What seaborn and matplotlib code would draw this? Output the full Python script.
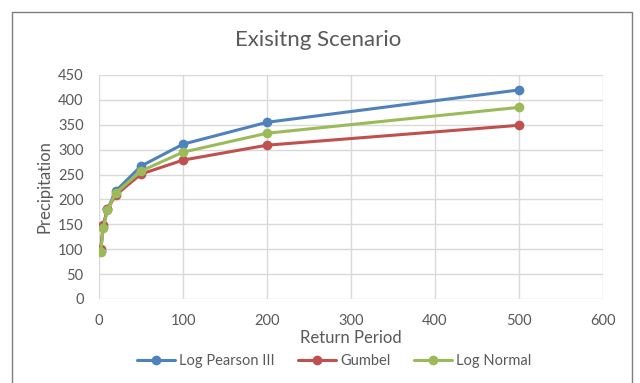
import matplotlib.pyplot as plt
from matplotlib.patches import Rectangle
import pandas as pd
import seaborn as sns

return_period = [2, 5, 10, 20, 50, 100, 200, 500]
log_pearson = [97, 145, 180, 217, 267, 311, 355, 420]
gumbel = [100, 148, 180, 209, 251, 279, 309, 349]
log_normal = [95, 143, 179, 213, 257, 295, 333, 385]

series = ['Log Pearson III', 'Gumbel', 'Log Normal']
colors = ['#4F81BD', '#C0504D', '#9BBB59']

df = pd.DataFrame({
    'Return Period': return_period * 3,
    'Precipitation': log_pearson + gumbel + log_normal,
    'Method': [s for s in series for _ in return_period],
})

sns.set_theme(style='white')
plt.rcParams['font.family'] = ['Lato', 'DejaVu Sans']
txt = '#595959'

fig = plt.figure(figsize=(6.4, 3.83), dpi=100)
ax = fig.add_axes([99 / 640, 1 - 299 / 383, 504 / 640, 224 / 383])

sns.lineplot(data=df, x='Return Period', y='Precipitation', hue='Method',
             palette=colors, marker='o', markersize=7, markeredgewidth=0,
             linewidth=2.2, ax=ax, legend=False)

ax.set_xlim(0, 600)
ax.set_ylim(0, 450)
ax.set_xticks(range(0, 601, 100))
ax.set_yticks(range(0, 451, 50))
ax.grid(True, color='#D9D9D9', linewidth=1)
ax.set_axisbelow(True)
for sp in ax.spines.values():
    sp.set_visible(False)
ax.tick_params(axis='both', colors=txt, labelsize=10.5, length=0)
ax.tick_params(axis='x', pad=11)
ax.tick_params(axis='y', pad=11)
ax.set_xlabel('Return Period', fontsize=12, color=txt, labelpad=1)
ax.set_ylabel('Precipitation', fontsize=12, color=txt, labelpad=4)

fig.text(318 / 640, 1 - 40 / 383, 'Exisitng Scenario', fontsize=16, color=txt,
         ha='center', va='center')

handles = [plt.Line2D([], [], color=c, marker='o', markersize=7, linewidth=2.2,
                      markeredgewidth=0) for c in colors]
fig.legend(handles, series, loc='center', bbox_to_anchor=(334 / 640, 1 - 361 / 383),
           ncol=3, frameon=False, fontsize=10.5, labelcolor=txt,
           handlelength=2.6, columnspacing=1.6, handletextpad=0.3)

fig.patches.append(Rectangle((12 / 640, -0.05), 620 / 640, 1.05 - 12 / 383,
                             transform=fig.transFigure, fill=False,
                             edgecolor='#7F7F7F', linewidth=1))

fig.savefig('out.png', dpi=100, facecolor='white')
